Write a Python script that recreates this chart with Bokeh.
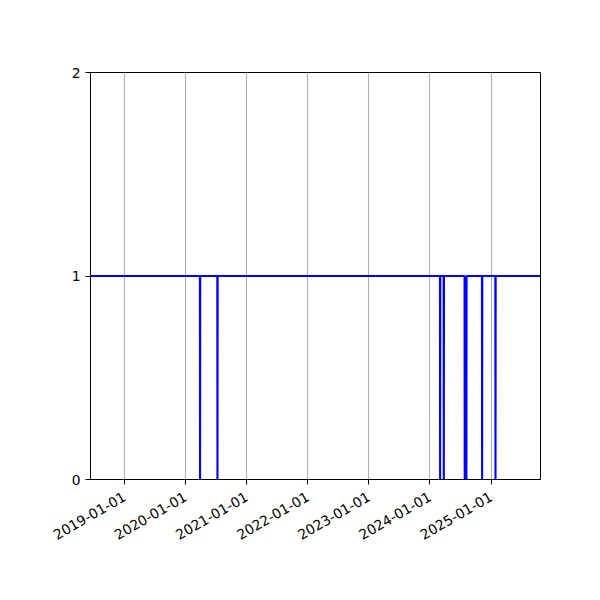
import math
from datetime import datetime
from bokeh.plotting import figure
from bokeh.models import Range1d, FixedTicker, ColumnDataSource
from bokeh.embed import file_html
from bokeh.resources import INLINE

# Data: step series of a 0/1 status
dates = [
    "2018-06-12", "2020-03-27", "2020-03-28", "2020-03-29",
    "2020-07-09", "2020-07-10", "2020-07-11",
    "2024-03-01", "2024-03-02", "2024-03-03",
    "2024-03-23", "2024-03-24", "2024-03-25",
    "2024-07-26", "2024-07-27", "2024-08-06", "2024-08-07",
    "2024-11-07", "2024-11-08", "2024-11-09",
    "2025-01-26", "2025-01-27", "2025-01-28",
    "2025-10-23",
]
values = [
    1, 1, 0, 1,
    1, 0, 1,
    1, 0, 1,
    1, 0, 1,
    1, 0, 0, 1,
    1, 0, 1,
    1, 0, 1,
    1,
]
x_tick_labels = ["2019-01-01", "2020-01-01", "2021-01-01", "2022-01-01",
                 "2023-01-01", "2024-01-01", "2025-01-01"]
y_ticks = [0, 1, 2]
x_start = "2018-06-12"
x_end = "2025-10-23"


def to_ms(s):
    return datetime.strptime(s, "%Y-%m-%d").timestamp() * 1000.0


xs = [datetime.strptime(d, "%Y-%m-%d") for d in dates]
src = ColumnDataSource(dict(x=xs, y=values))

W, H = 584, 584
left, top, fw, fh = 90, 72, 450, 407

p = figure(
    width=W, height=H,
    x_axis_type="datetime",
    x_range=Range1d(to_ms(x_start), to_ms(x_end)),
    y_range=Range1d(0, 2),
    output_backend="svg", toolbar_location=None,
    frame_width=fw, frame_height=fh,
    min_border_left=left, min_border_top=top,
    min_border_right=W - left - fw, min_border_bottom=H - top - fh,
)
p.background_fill_color = "white"
p.border_fill_color = "white"
p.outline_line_color = "black"
p.outline_line_width = 1

p.line("x", "y", source=src, line_color="#0000ff", line_width=2.1)

tick_ms = [to_ms(t) for t in x_tick_labels]
p.xaxis.ticker = FixedTicker(ticks=tick_ms)
p.xaxis.major_label_overrides = {t: lab for t, lab in zip(tick_ms, x_tick_labels)}
p.xaxis.major_label_orientation = math.pi / 6
p.yaxis.ticker = FixedTicker(ticks=y_ticks)

for ax in (p.xaxis[0], p.yaxis[0]):
    ax.axis_line_color = "black"
    ax.major_tick_line_color = "black"
    ax.major_tick_out = 5
    ax.major_tick_in = 0
    ax.minor_tick_line_color = None
    ax.major_label_text_font = "DejaVu Sans"
    ax.major_label_text_font_size = "13.9px"
    ax.major_label_text_color = "black"
    ax.major_label_standoff = 5

p.xaxis.major_label_standoff = 11

p.xgrid.grid_line_color = "#b0b0b0"
p.xgrid.grid_line_width = 1.1
p.ygrid.grid_line_color = None

open("out.html", "w").write(file_html(p, INLINE))
